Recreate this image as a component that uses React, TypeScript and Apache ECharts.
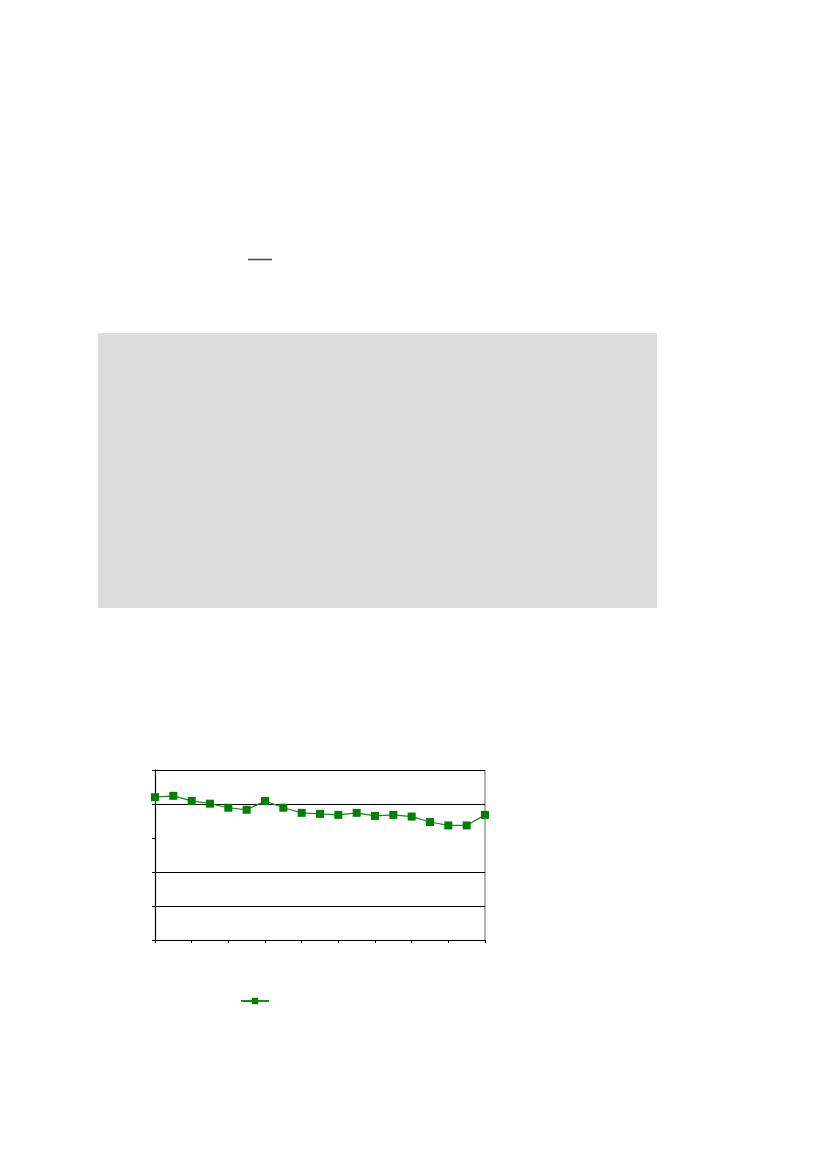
import React, { useEffect, useRef } from "react";
import * as echarts from "echarts";

const categories: string[] = [
  "1", "2", "3", "4", "5", "6", "7", "8", "9", "10",
  "11", "12", "13", "14", "15", "16", "17", "18", "19",
];
const seriesValues: number[] = [
  4.2, 4.24, 4.09, 4.01, 3.89, 3.83, 4.09, 3.89, 3.74, 3.71,
  3.68, 3.74, 3.65, 3.68, 3.63, 3.47, 3.37, 3.37, 3.68,
];
const yMin = 0;
const yMax = 5;
const yInterval = 1;

export default function App() {
  const ref = useRef<HTMLDivElement>(null);
  useEffect(() => {
    if (!ref.current) return;
    const chart = echarts.init(ref.current, undefined, { renderer: "svg" });
    chart.setOption({
      animation: false,
      backgroundColor: "#ffffff",
      grid: { left: 155, top: 770, width: 330, height: 170, containLabel: false },
      xAxis: {
        type: "category",
        data: categories,
        boundaryGap: false,
        axisLine: { show: true, lineStyle: { color: "#000", width: 1.2 } },
        axisTick: { show: true, interval: 1, length: 3, lineStyle: { color: "#000" } },
        axisLabel: { show: false },
        splitLine: { show: false },
      },
      yAxis: {
        type: "value",
        min: yMin,
        max: yMax,
        interval: yInterval,
        axisLine: { show: true, lineStyle: { color: "#000", width: 1.2 } },
        axisTick: { show: true, length: 3, lineStyle: { color: "#000" } },
        axisLabel: { show: false },
        splitLine: {
          show: true,
          lineStyle: {
            color: ["#000", "#000", "#000", "rgba(0,0,0,0)", "#000", "#000"],
            width: 1.2,
          },
        },
      },
      legend: {
        show: true,
        left: 235,
        top: 992,
        itemWidth: 28,
        itemHeight: 8,
        formatter: () => "",
        textStyle: { fontSize: 1 },
        data: ["Serie"],
      },
      series: [
        {
          name: "Serie",
          type: "line",
          data: seriesValues,
          symbol: "rect",
          symbolSize: 8,
          lineStyle: { color: "#119011", width: 1.2 },
          itemStyle: { color: "#008000" },
        },
      ],
      graphic: [
        {
          type: "line",
          shape: { x1: 485, y1: 770, x2: 485, y2: 940 },
          style: { stroke: "#808080", lineWidth: 1.2 },
        },
        {
          type: "line",
          shape: { x1: 248, y1: 259.5, x2: 272, y2: 259.5 },
          style: { stroke: "#444444", lineWidth: 1.5 },
        },
        {
          type: "rect",
          shape: { x: 98, y: 333, width: 559, height: 275 },
          style: { fill: "#dddddd" },
        },
      ],
    });
    return () => chart.dispose();
  }, []);
  return (
    <div
      ref={ref}
      style={{ position: "absolute", left: 0, top: 0, width: 827, height: 1169 }}
    />
  );
}
